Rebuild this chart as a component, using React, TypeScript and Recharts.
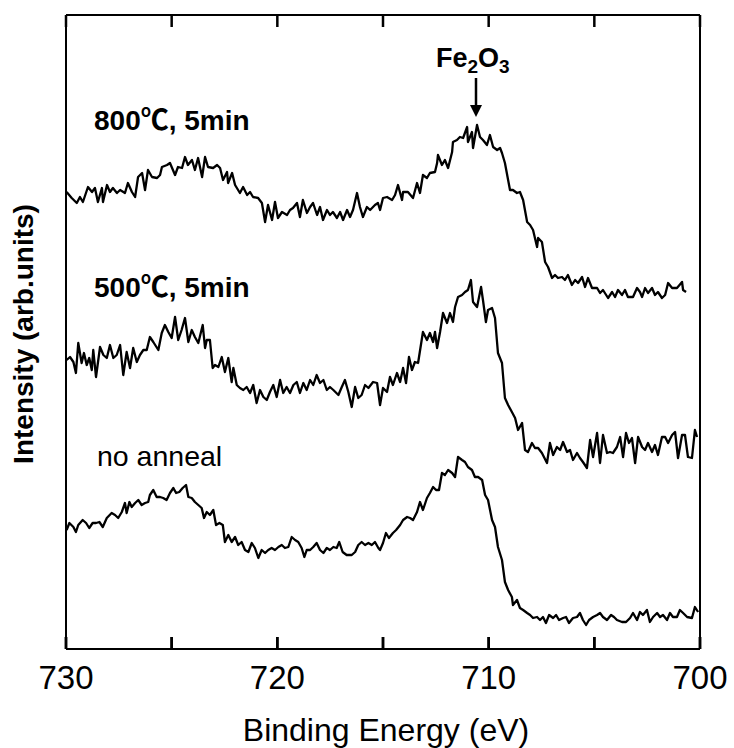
import { LineChart, Line, XAxis, YAxis, ReferenceLine } from "recharts";

const FONT = "'Liberation Sans', Arial, 'Noto Sans CJK JP', sans-serif";

// x axis (binding energy, eV) ticks; only every other one carries a label
const xTicks = [730, 725, 720, 715, 710, 705, 700];
const xTickLabels = ["730", "", "720", "", "710", "", "700"];
// intensity axis range (arb. units) and inward tick length
const yMax = 634;
const tickLen = 12;

// plot box in page pixels (margins + axis sizes below)
const plotLeft = 66;
const plotRight = 700;
const plotTop = 15;
const plotBottom = 649;

// 800 C, 5 min
const e800 = [
  729.97, 729.73, 729.49, 729.34, 729.2, 728.96, 728.77, 728.63, 728.49, 728.3,
  728.25, 728.06, 727.92, 727.78, 727.59, 727.44, 727.21, 727.07, 726.88, 726.73,
  726.59, 726.4, 726.26, 726.12, 725.93, 725.69, 725.55, 725.46, 725.22, 725.08,
  724.84, 724.7, 724.51, 724.37, 724.23, 724.04, 723.9, 723.75, 723.56, 723.42,
  723.28, 723.04, 722.85, 722.71, 722.57, 722.38, 722.33, 722.14, 722.0, 721.77,
  721.62, 721.43, 721.29, 721.15, 720.91, 720.73, 720.58, 720.44, 720.25, 720.11,
  719.97, 719.78, 719.54, 719.4, 719.26, 719.07, 718.93, 718.79, 718.6, 718.45,
  718.31, 718.12, 717.98, 717.84, 717.65, 717.51, 717.37, 717.18, 717.03, 716.89,
  716.7, 716.56, 716.42, 716.23, 716.09, 715.95, 715.76, 715.61, 715.38, 715.24,
  715.14, 715.0, 714.81, 714.57, 714.43, 714.29, 714.1, 714.05, 713.82, 713.58,
  713.39, 713.25, 713.11, 712.92, 712.78, 712.54, 712.44, 712.4, 712.21, 712.07,
  711.92, 711.73, 711.69, 711.5, 711.36, 711.21, 711.02, 710.98, 710.79, 710.74,
  710.55, 710.41, 710.27, 710.08, 709.94, 709.79, 709.6, 709.46, 709.37, 709.23,
  709.08, 708.99, 708.85, 708.66, 708.52, 708.37, 708.18, 708.04, 707.9, 707.71,
  707.66, 707.48, 707.33, 707.19, 707.0, 706.86, 706.72, 706.53, 706.39, 706.25,
  706.06, 705.91, 705.77, 705.58, 705.44, 705.3, 705.11, 704.87, 704.73, 704.59,
  704.35, 704.16, 704.02, 703.88, 703.69, 703.55, 703.41, 703.17, 702.98, 702.84,
  702.74, 702.6, 702.46, 702.27, 702.13, 701.99, 701.8, 701.65, 701.51, 701.32,
  701.09, 700.85, 700.8, 700.66,
];
const i800 = [
  457, 451, 446, 452, 447, 462, 457, 461, 447, 461,
  447, 464, 457, 461, 456, 459, 456, 466, 457, 452,
  472, 476, 459, 479, 472, 471, 474, 482, 484, 486,
  474, 482, 481, 492, 484, 489, 479, 491, 472, 492,
  482, 481, 484, 481, 469, 477, 466, 476, 464, 456,
  462, 454, 457, 452, 451, 446, 427, 444, 429, 447,
  431, 437, 434, 439, 441, 446, 432, 449, 436, 442,
  446, 434, 442, 429, 439, 434, 437, 431, 437, 429,
  439, 432, 439, 456, 442, 432, 442, 439, 444, 446,
  439, 451, 452, 449, 454, 464, 449, 457, 457, 451,
  466, 456, 474, 471, 476, 477, 486, 494, 484, 489,
  481, 497, 507, 509, 512, 511, 522, 507, 517, 501,
  524, 512, 509, 504, 514, 502, 499, 501, 496, 486,
  469, 459, 459, 456, 457, 449, 427, 424, 419, 402,
  411, 407, 387, 382, 371, 374, 371, 372, 369, 374,
  364, 369, 366, 372, 362, 371, 361, 361, 356, 359,
  351, 357, 352, 359, 354, 359, 352, 352, 361, 357,
  352, 361, 356, 361, 354, 357, 351, 354, 366, 361,
  361, 367, 359, 357,
];

// 500 C, 5 min
const e500 = [
  729.97, 729.81, 729.65, 729.53, 729.42, 729.26, 729.15, 729.02, 728.9, 728.78,
  728.71, 728.58, 728.39, 728.23, 728.07, 727.92, 727.76, 727.6, 727.44, 727.29,
  727.13, 726.97, 726.82, 726.65, 726.5, 726.34, 726.18, 726.03, 725.87, 725.63,
  725.47, 725.32, 725.16, 725.0, 724.84, 724.69, 724.53, 724.37, 724.21, 724.05,
  723.9, 723.74, 723.53, 723.42, 723.34, 723.19, 723.06, 722.95, 722.79, 722.63,
  722.48, 722.32, 722.16, 722.08, 721.92, 721.77, 721.61, 721.45, 721.29, 721.14,
  720.98, 720.82, 720.66, 720.5, 720.35, 720.19, 720.03, 719.87, 719.72, 719.56,
  719.4, 719.24, 719.08, 718.93, 718.77, 718.61, 718.45, 718.3, 718.14, 717.98,
  717.82, 717.66, 717.51, 717.35, 717.11, 716.95, 716.8, 716.64, 716.48, 716.32,
  716.17, 716.01, 715.85, 715.69, 715.47, 715.28, 715.14, 715.0, 714.81, 714.67,
  714.53, 714.34, 714.19, 714.05, 713.91, 713.77, 713.63, 713.49, 713.34, 713.11,
  712.92, 712.78, 712.63, 712.54, 712.44, 712.3, 712.16, 711.97, 711.83, 711.69,
  711.59, 711.45, 711.26, 711.12, 710.98, 710.84, 710.74, 710.55, 710.36, 710.27,
  710.13, 710.03, 709.84, 709.7, 709.56, 709.37, 709.23, 709.08, 708.9, 708.75,
  708.61, 708.42, 708.28, 708.14, 707.95, 707.81, 707.66, 707.48, 707.24, 707.1,
  706.95, 706.77, 706.62, 706.48, 706.29, 706.15, 706.01, 705.82, 705.68, 705.54,
  705.35, 705.2, 705.06, 704.87, 704.73, 704.59, 704.4, 704.26, 704.12, 703.93,
  703.78, 703.64, 703.5, 703.36, 703.22, 703.07, 702.93, 702.74, 702.6, 702.46,
  702.27, 702.13, 701.99, 701.8, 701.65, 701.51, 701.32, 701.18, 701.04, 700.85,
  700.71, 700.57, 700.38, 700.24, 700.14,
];
const i500 = [
  289, 292, 287, 276, 306, 286, 296, 284, 291, 279,
  299, 272, 302, 294, 291, 304, 291, 294, 304, 274,
  297, 281, 301, 287, 294, 299, 299, 312, 307, 299,
  316, 324, 317, 311, 332, 309, 319, 331, 307, 319,
  312, 306, 324, 301, 309, 309, 281, 284, 282, 292,
  277, 291, 267, 281, 264, 261, 259, 262, 256, 264,
  246, 259, 252, 249, 257, 264, 252, 269, 256, 262,
  256, 264, 267, 256, 266, 259, 269, 264, 274, 266,
  269, 259, 262, 259, 254, 262, 269, 257, 242, 262,
  251, 254, 264, 261, 267, 266, 244, 261, 257, 272,
  264, 276, 267, 281, 266, 292, 279, 287, 286, 317,
  309, 316, 307, 317, 301, 317, 336, 326, 336, 327,
  342, 352, 354, 357, 359, 369, 347, 342, 362, 349,
  327, 339, 341, 331, 296, 286, 251, 244, 237, 231,
  219, 226, 199, 197, 206, 201, 201, 196, 186, 206,
  194, 202, 199, 207, 197, 199, 189, 196, 191, 187,
  181, 209, 192, 216, 186, 214, 196, 197, 196, 202,
  212, 192, 216, 206, 211, 186, 212, 202, 199, 206,
  197, 204, 194, 212, 212, 206, 214, 217, 191, 214,
  214, 192, 191, 219, 212,
];

// no anneal
const e0 = [
  729.97, 729.84, 729.65, 729.53, 729.42, 729.21, 729.05, 728.9, 728.74, 728.58,
  728.42, 728.26, 728.07, 727.84, 727.68, 727.53, 727.36, 727.21, 727.13, 727.0,
  726.89, 726.73, 726.58, 726.42, 726.26, 726.11, 726.03, 725.87, 725.71, 725.55,
  725.4, 725.24, 725.08, 724.92, 724.79, 724.64, 724.48, 724.32, 724.21, 724.05,
  723.9, 723.74, 723.58, 723.47, 723.34, 723.19, 723.03, 722.9, 722.74, 722.58,
  722.48, 722.32, 722.16, 722.0, 721.85, 721.69, 721.53, 721.37, 721.21, 721.06,
  720.9, 720.74, 720.58, 720.43, 720.27, 720.11, 719.95, 719.79, 719.64, 719.48,
  719.32, 719.16, 719.01, 718.85, 718.72, 718.61, 718.45, 718.3, 718.14, 717.98,
  717.82, 717.66, 717.51, 717.35, 717.19, 717.07, 716.91, 716.72, 716.48, 716.32,
  716.17, 716.01, 715.85, 715.69, 715.53, 715.38, 715.22, 715.14, 715.0, 714.86,
  714.72, 714.53, 714.38, 714.19, 714.05, 713.86, 713.72, 713.58, 713.39, 713.25,
  713.11, 712.92, 712.78, 712.63, 712.49, 712.35, 712.21, 712.07, 711.92, 711.73,
  711.59, 711.45, 711.26, 711.12, 710.98, 710.79, 710.65, 710.5, 710.31, 710.17,
  710.03, 709.84, 709.7, 709.56, 709.37, 709.23, 709.08, 708.9, 708.85, 708.66,
  708.52, 708.37, 708.18, 708.04, 707.9, 707.71, 707.57, 707.43, 707.29, 707.14,
  706.95, 706.81, 706.67, 706.48, 706.34, 706.2, 706.01, 705.82, 705.68, 705.54,
  705.39, 705.25, 705.06, 704.87, 704.73, 704.59, 704.4, 704.21, 704.07, 703.93,
  703.69, 703.5, 703.31, 703.17, 702.98, 702.84, 702.7, 702.51, 702.37, 702.22,
  702.03, 701.89, 701.75, 701.56, 701.42, 701.28, 701.09, 700.95, 700.8, 700.61,
  700.38, 700.24, 700.09,
];
const i0 = [
  119, 126, 122, 117, 124, 129, 126, 121, 126, 126,
  127, 122, 131, 136, 134, 131, 137, 146, 136, 147,
  142, 146, 149, 144, 146, 147, 154, 159, 152, 152,
  151, 149, 156, 161, 156, 157, 161, 164, 152, 151,
  147, 144, 141, 131, 137, 134, 139, 124, 126, 124,
  107, 114, 107, 112, 104, 107, 99, 97, 106, 101,
  91, 99, 96, 99, 101, 99, 102, 104, 101, 102,
  112, 109, 107, 101, 92, 99, 99, 102, 106, 99,
  96, 101, 99, 102, 101, 107, 97, 94, 94, 97,
  104, 107, 104, 106, 104, 107, 101, 99, 106, 116,
  111, 116, 119, 124, 129, 132, 131, 129, 137, 147,
  139, 151, 156, 162, 159, 159, 176, 174, 179, 176,
  172, 192, 189, 187, 182, 179, 172, 172, 169, 154,
  149, 129, 122, 102, 89, 67, 59, 52, 44, 49,
  41, 39, 36, 34, 31, 32, 29, 32, 26, 34,
  31, 34, 29, 31, 32, 26, 31, 32, 36, 29,
  24, 29, 32, 34, 36, 32, 29, 34, 32, 29,
  27, 27, 31, 36, 29, 37, 34, 39, 27, 32,
  36, 32, 34, 29, 36, 32, 32, 39, 36, 32,
  31, 42, 37,
];

const toRows = (es: number[], is: number[]) => es.map((e, k) => ({ e, i: is[k] }));
const d800 = toRows(e800, i800);
const d500 = toRows(e500, i500);
const d0 = toRows(e0, i0);

// same linear map the x axis uses (730 at the left edge, 700 at the right)
const tickX = (v: number) => plotLeft + ((730 - v) / 30) * (plotRight - plotLeft);

// tickSize is negative (ticks point inward), so y here is 12px above the axis line
const BottomTick = (props: any) => {
  const { x, y, payload } = props;
  const label = xTickLabels[xTicks.indexOf(payload.value)];
  if (!label) return <g />;
  return (
    <text x={x} y={y + 52} textAnchor="middle" fontSize={33} fontFamily={FONT} fill="#000">
      {label}
    </text>
  );
};

export default function App() {
  return (
    <div style={{ position: "absolute", left: 0, top: 0, width: 734, height: 748, background: "#fff" }}>
      <LineChart width={734} height={748} margin={{ top: 14, right: 34, bottom: 49, left: 65 }}>
        <XAxis
          xAxisId="b"
          dataKey="e"
          type="number"
          domain={[700, 730]}
          reversed
          ticks={xTicks}
          interval={0}
          height={50}
          tickSize={-tickLen}
          tickMargin={0}
          tickLine={{ stroke: "#000", strokeWidth: 2.5 }}
          axisLine={{ stroke: "#000", strokeWidth: 2 }}
          tick={(p: any) => <BottomTick {...p} />}
        />
        <XAxis
          xAxisId="t"
          orientation="top"
          dataKey="e"
          type="number"
          domain={[700, 730]}
          reversed
          ticks={xTicks}
          height={1}
          tick={false}
          tickLine={false}
          axisLine={{ stroke: "#000", strokeWidth: 2 }}
        />
        <YAxis yAxisId="l" type="number" domain={[0, yMax]} width={1} tick={false} tickLine={false} axisLine={{ stroke: "#000", strokeWidth: 2 }} />
        <ReferenceLine xAxisId="b" yAxisId="l" x={700} stroke="#000" strokeWidth={2} />
        <Line xAxisId="b" yAxisId="l" data={d800} dataKey="i" type="linear" stroke="#000" strokeWidth={2.3} dot={false} isAnimationActive={false} strokeLinejoin="round" />
        <Line xAxisId="b" yAxisId="l" data={d500} dataKey="i" type="linear" stroke="#000" strokeWidth={2.3} dot={false} isAnimationActive={false} strokeLinejoin="round" />
        <Line xAxisId="b" yAxisId="l" data={d0} dataKey="i" type="linear" stroke="#000" strokeWidth={2.3} dot={false} isAnimationActive={false} strokeLinejoin="round" />
      </LineChart>
      <svg
        width={734}
        height={748}
        style={{ position: "absolute", left: 0, top: 0, pointerEvents: "none" }}
        fontFamily={FONT}
        fill="#000"
      >
        {xTicks.map((v) => (
          <g key={v}>
            <line x1={tickX(v)} x2={tickX(v)} y1={plotBottom} y2={plotBottom - tickLen} stroke="#000" strokeWidth={2.5} />
            <line x1={tickX(v)} x2={tickX(v)} y1={plotTop} y2={plotTop + tickLen} stroke="#000" strokeWidth={2.5} />
          </g>
        ))}
        <text x={436} y={67} fontSize={27} fontWeight="bold">
          Fe
          <tspan fontSize={19} dy={6}>2</tspan>
          <tspan fontSize={27} dy={-6}>O</tspan>
          <tspan fontSize={19} dy={6}>3</tspan>
        </text>
        <line x1={476} x2={476} y1={78} y2={107} stroke="#000" strokeWidth={2.5} />
        <polygon points="470,105 482,105 476,117" fill="#000" />
        <text x={94} y={130} fontSize={28} fontWeight="bold">800℃, 5min</text>
        <text x={94} y={297} fontSize={28} fontWeight="bold">500℃, 5min</text>
        <text x={97} y={466} fontSize={28.5}>no anneal</text>
        <text x={33} y={334} fontSize={28} fontWeight="bold" textAnchor="middle" transform="rotate(-90 33 334)">
          Intensity (arb.units)
        </text>
        <text x={386} y={741} fontSize={32} textAnchor="middle">Binding Energy (eV)</text>
      </svg>
    </div>
  );
}
